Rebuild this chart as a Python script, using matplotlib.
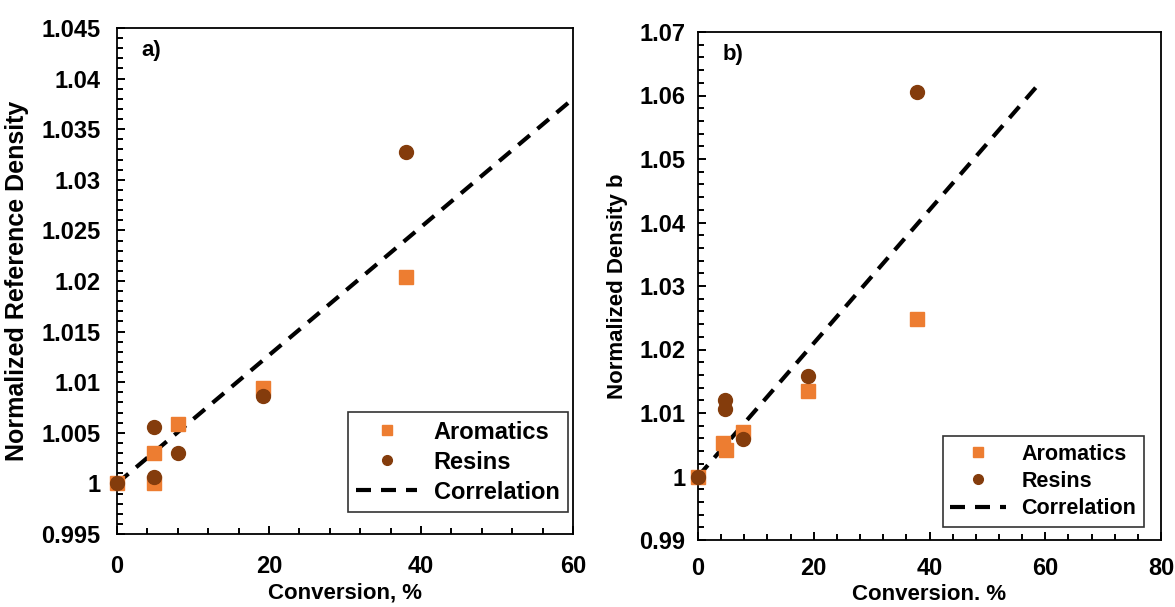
import matplotlib
matplotlib.use("Agg")
import matplotlib.pyplot as plt
from matplotlib.ticker import MultipleLocator, FuncFormatter

plt.rcParams['font.family'] = ['Liberation Sans', 'DejaVu Sans']
plt.rcParams['font.weight'] = 'bold'

# panel a) normalized reference density
conv_a = [0, 4.9, 4.9, 8, 19.2, 38]
arom_a = [1.0, 1.0030, 1.0000, 1.0059, 1.0094, 1.0204]
conv_ra = [0, 4.9, 4.9, 8, 19.2, 38]
res_a = [1.0, 1.0056, 1.0006, 1.0030, 1.0086, 1.0327]
corr_xa = [0, 60]
corr_ya = [1.0, 1.038]

# panel b) normalized density b
conv_b = [0, 4.4, 4.8, 7.8, 19, 37.8]
arom_b = [1.0, 1.0053, 1.0042, 1.0070, 1.0135, 1.0248]
conv_rb = [0, 4.6, 4.6, 7.8, 19, 37.8]
res_b = [1.0, 1.0121, 1.0107, 1.0059, 1.0158, 1.0605]
corr_xb = [0, 58.7]
corr_yb = [1.0, 1.0616]

orange = '#ED7D31'
brown = '#843C0C'

fig = plt.figure(figsize=(11.75, 6.07), dpi=100)
ax1 = fig.add_axes([117 / 1175, 73 / 607, 456 / 1175, 506 / 607])
ax2 = fig.add_axes([698 / 1175, 67 / 607, 463 / 1175, 508 / 607])


def fmt(v, pos):
    return ('%.3f' % v).rstrip('0').rstrip('.')


def style(ax, xmax, ymin, ymax, ymaj, xlabel, ylabel, ylsize, tag,
          xpad, ypad, xlp, ylp, leg_anchor, legsize):
    ax.set_xlim(0, xmax)
    ax.set_ylim(ymin, ymax)
    ax.xaxis.set_major_locator(MultipleLocator(20))
    ax.xaxis.set_minor_locator(MultipleLocator(4))
    ax.yaxis.set_major_locator(MultipleLocator(ymaj))
    ax.yaxis.set_minor_locator(MultipleLocator(ymaj / 5))
    ax.yaxis.set_major_formatter(FuncFormatter(fmt))
    ax.tick_params(which='both', direction='in', labelsize=17, width=1.4)
    ax.tick_params(which='major', length=5.5)
    ax.tick_params(which='minor', length=4.5)
    ax.tick_params(axis='x', which='major', pad=xpad)
    ax.tick_params(axis='y', which='major', pad=ypad)
    for sp in ax.spines.values():
        sp.set_linewidth(1.3)
    for lab in ax.get_xticklabels() + ax.get_yticklabels():
        lab.set_fontweight('bold')
    ax.set_xlabel(xlabel, fontsize=16, fontweight='bold', labelpad=xlp)
    ax.set_ylabel(ylabel, fontsize=ylsize, fontweight='bold', labelpad=ylp)
    ax.text(0.053, 0.977, tag, transform=ax.transAxes, fontsize=16,
            fontweight='bold', va='top')
    leg = ax.legend(loc='lower right', bbox_to_anchor=leg_anchor,
                    fontsize=legsize, frameon=True, fancybox=False,
                    edgecolor='black', borderaxespad=0, handlelength=2.6,
                    markerscale=0.7, labelspacing=0.3, borderpad=0.35,
                    handletextpad=0.7)
    leg.get_frame().set_linewidth(1.2)


for ax, xa, ya, xr, yr, cx, cy in [
        (ax1, conv_a, arom_a, conv_ra, res_a, corr_xa, corr_ya),
        (ax2, conv_b, arom_b, conv_rb, res_b, corr_xb, corr_yb)]:
    ax.plot(xa, ya, 's', color=orange, markersize=10, label='Aromatics',
            zorder=3, clip_on=False)
    ax.plot(xr, yr, 'o', color=brown, markersize=10, label='Resins',
            zorder=4, clip_on=False)
    ax.plot(cx, cy, '--', color='black', linewidth=3, dashes=(3.6, 2.4),
            label='Correlation', zorder=2)

style(ax1, 60, 0.995, 1.045, 0.005, 'Conversion, %',
      'Normalized Reference Density', 18, 'a)',
      xpad=15, ypad=12, xlp=3, ylp=9, leg_anchor=(0.989, 0.0435), legsize=17)
style(ax2, 80, 0.99, 1.07, 0.01, 'Conversion. %',
      'Normalized Density b', 16, 'b)',
      xpad=12, ypad=9, xlp=3, ylp=8, leg_anchor=(0.963, 0.0256), legsize=15.5)

fig.savefig('out.png', dpi=100)
